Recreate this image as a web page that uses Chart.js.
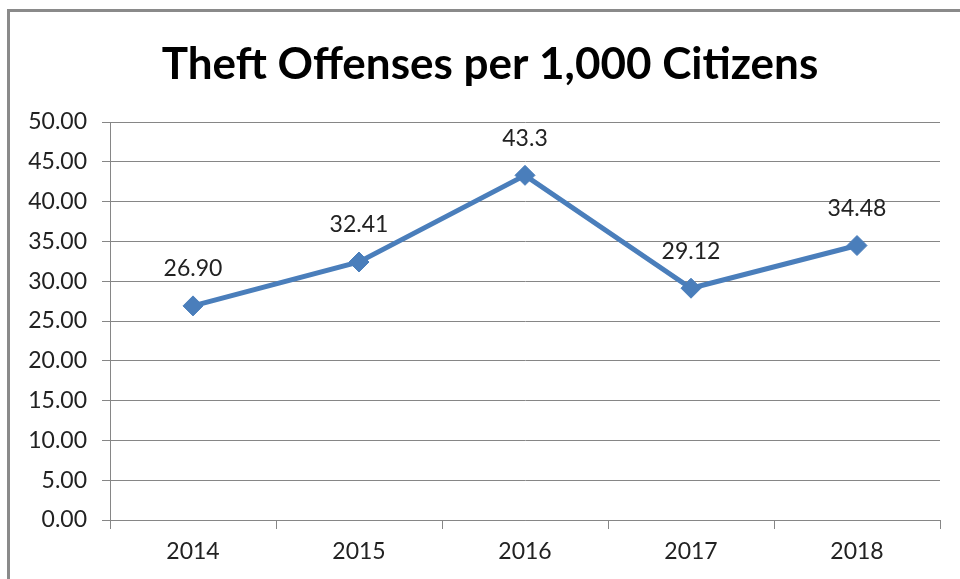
<!DOCTYPE html>
<html>
<head>
<meta charset="utf-8">
<script src="https://cdn.jsdelivr.net/npm/chart.js@4.4.1/dist/chart.umd.min.js"></script>
<style>
  html, body { margin: 0; padding: 0; background: #fff; overflow: hidden; }
  #wrap { position: relative; width: 960px; height: 579px; overflow: hidden; }
  #frame { position: absolute; left: 7px; top: 9px; width: 1000px; height: 620px;
           border: 3px solid #8a8a8a; box-sizing: border-box; pointer-events: none; }
  canvas { position: absolute; left: 0; top: 0; }
</style>
</head>
<body>
<div id="wrap">
  <canvas id="c" width="960" height="579"></canvas>
  <div id="frame"></div>
</div>
<script>
const chartTitle = 'Theft Offenses per 1,000 Citizens';
const years = ['2014', '2015', '2016', '2017', '2018'];
const theftRates = [26.90, 32.41, 43.3, 29.12, 34.48];
const pointLabels = ['26.90', '32.41', '43.3', '29.12', '34.48'];
const yTicks = [0, 5, 10, 15, 20, 25, 30, 35, 40, 45, 50];

const FONT = 'Lato, "Open Sans", sans-serif';
const GRID = '#868686';

const labelPlugin = {
  id: 'pointLabels',
  afterDatasetsDraw(chart) {
    const ctx = chart.ctx;
    const meta = chart.getDatasetMeta(0);
    ctx.save();
    ctx.font = '23px ' + FONT;
    ctx.fillStyle = '#222';
    ctx.textAlign = 'center';
    ctx.textBaseline = 'middle';
    meta.data.forEach((pt, i) => {
      ctx.fillText(pointLabels[i], pt.x, pt.y - 37);
    });
    ctx.restore();
  }
};

new Chart(document.getElementById('c'), {
  type: 'line',
  data: {
    labels: years,
    datasets: [{
      data: theftRates,
      borderColor: '#4A7EBB',
      backgroundColor: '#4A7EBB',
      borderWidth: 5,
      pointStyle: 'rectRot',
      pointRadius: 10,
      pointHoverRadius: 10,
      pointBackgroundColor: '#4A7EBB',
      pointBorderColor: '#4A7EBB',
      pointBorderWidth: 1,
      tension: 0,
      fill: false
    }]
  },
  options: {
    responsive: false,
    animation: false,
    devicePixelRatio: 1,
    layout: { padding: { left: 20, right: 0, top: 0, bottom: 0 } },
    plugins: {
      legend: { display: false },
      tooltip: { enabled: false },
      title: {
        display: true,
        text: chartTitle,
        color: '#000',
        font: { family: FONT, size: 44, weight: 'bold', lineHeight: 1.2 },
        padding: { top: 38, bottom: 31.2 }
      }
    },
    scales: {
      x: {
        offset: true,
        grid: {
          display: true,
          offset: true,
          drawOnChartArea: false,
          drawTicks: true,
          tickLength: 9,
          color: GRID,
          lineWidth: 1
        },
        border: { display: true, color: GRID, width: 1 },
        ticks: { color: '#222', font: { family: FONT, size: 23 }, padding: 9, maxRotation: 0 },
        afterFit(scale) { scale.height = 59; }
      },
      y: {
        min: 0,
        max: 50,
        afterBuildTicks(scale) { scale.ticks = yTicks.map(v => ({ value: v })); },
        grid: {
          color: GRID,
          lineWidth: 1,
          drawTicks: true,
          tickLength: 8
        },
        border: { display: true, color: GRID, width: 1 },
        ticks: {
          color: '#222',
          font: { family: FONT, size: 23 },
          padding: 15,
          callback: (v) => Number(v).toFixed(2)
        },
        afterFit(scale) { scale.width = 90; }
      },
      yRight: {
        position: 'right',
        min: 0,
        max: 50,
        grid: { display: false, drawTicks: false },
        border: { display: false },
        ticks: { display: false },
        afterFit(scale) { scale.width = 20; }
      }
    }
  },
  plugins: [labelPlugin]
});
</script>
</body>
</html>
